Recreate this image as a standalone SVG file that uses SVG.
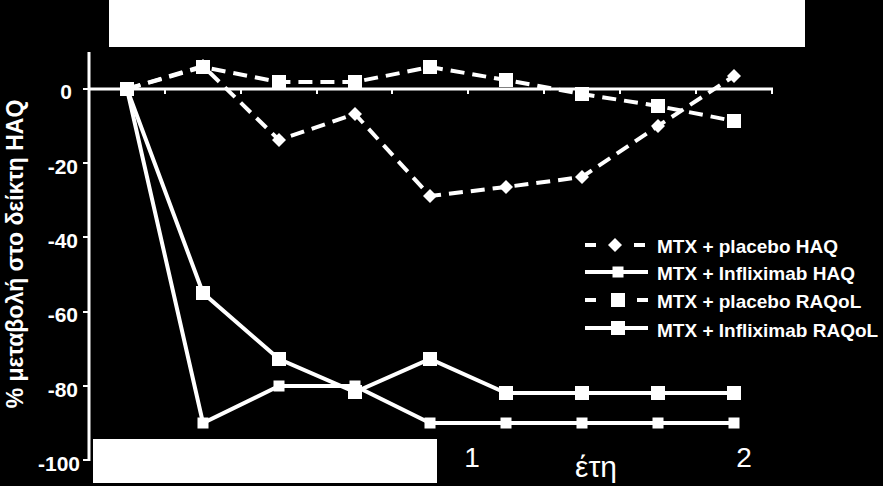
<svg xmlns="http://www.w3.org/2000/svg" width="883" height="486" viewBox="0 0 883 486">
<defs>
<style>
.ax{stroke:#fff;stroke-width:3;fill:none}
.tk{stroke:#fff;stroke-width:2}
.yl{font-family:"Liberation Sans",Arial,sans-serif;font-weight:bold;font-size:21px;fill:#fff;text-anchor:end}
.xl{font-family:"Liberation Sans",Arial,sans-serif;font-size:28px;fill:#fff;text-anchor:middle}
.lg{font-family:"Liberation Sans",Arial,sans-serif;font-weight:bold;font-size:19px;fill:#fff}
.dash{stroke:#fff;stroke-width:4;fill:none;stroke-dasharray:14 8}
.solid{stroke:#fff;stroke-width:4;fill:none}
.m{fill:#fff}
</style>
<rect id="sqS" x="-5.5" y="-5.5" width="11" height="11" class="m"/>
<rect id="sqL" x="-7" y="-7" width="14" height="14" class="m"/>
<polygon id="dia" points="0,-7 7,0 0,7 -7,0" class="m"/>
</defs>
<rect width="883" height="486" fill="#000"/>
<rect x="109" y="0" width="696" height="47" fill="#fff"/>
<g id="axes">
<line class="ax" x1="89" y1="52" x2="89" y2="461"/>
<line class="ax" x1="88" y1="89" x2="773" y2="89"/>
<g class="tk">
<line x1="83" y1="89" x2="89" y2="89"/>
<line x1="83" y1="163" x2="89" y2="163"/>
<line x1="83" y1="237" x2="89" y2="237"/>
<line x1="83" y1="312" x2="89" y2="312"/>
<line x1="83" y1="386" x2="89" y2="386"/>
<line x1="83" y1="460" x2="89" y2="460"/>
<line x1="165" y1="89" x2="165" y2="94"/>
<line x1="241" y1="89" x2="241" y2="94"/>
<line x1="317" y1="89" x2="317" y2="94"/>
<line x1="392" y1="89" x2="392" y2="94"/>
<line x1="468" y1="89" x2="468" y2="94"/>
<line x1="544" y1="89" x2="544" y2="94"/>
<line x1="620" y1="89" x2="620" y2="94"/>
<line x1="696" y1="89" x2="696" y2="94"/>
<line x1="772" y1="89" x2="772" y2="94"/>
</g>
<text class="yl" x="72" y="99">0</text>
<text class="yl" x="78" y="174">-20</text>
<text class="yl" x="78" y="248">-40</text>
<text class="yl" x="78" y="322">-60</text>
<text class="yl" x="78" y="397">-80</text>
<text class="yl" x="80" y="471">-100</text>
<text class="lg" transform="translate(23,254) rotate(-90)" text-anchor="middle" style="font-size:23px">% μεταβολή στο δείκτη HAQ</text>
<text class="xl" x="472" y="467">1</text>
<text class="xl" x="744" y="467">2</text>
<text class="xl" x="596" y="477" style="font-size:30px">έτη</text>
</g>
<g id="series">
<g id="placebo-haq">
<polyline class="dash" points="127,89 203,66 279,140 355,114 430,196 506,187 582,177 658,126 734,76"/>
<use href="#dia" x="203" y="66"/><use href="#dia" x="279" y="140"/><use href="#dia" x="355" y="114"/><use href="#dia" x="430" y="196"/><use href="#dia" x="506" y="187"/><use href="#dia" x="582" y="177"/><use href="#dia" x="658" y="126"/><use href="#dia" x="734" y="76"/>
</g>
<g id="placebo-raqol">
<polyline class="dash" points="127,89 203,67 279,82 355,82 430,67 506,80 582,94 658,106 734,121"/>
<use href="#sqL" x="127" y="89"/><use href="#sqL" x="203" y="67"/><use href="#sqL" x="279" y="82"/><use href="#sqL" x="355" y="82"/><use href="#sqL" x="430" y="67"/><use href="#sqL" x="506" y="80"/><use href="#sqL" x="582" y="94"/><use href="#sqL" x="658" y="106"/><use href="#sqL" x="734" y="121"/>
</g>
<g id="infliximab-haq">
<polyline class="solid" points="127,89 203,423 279,386 355,386 430,423 506,423 582,423 658,423 734,423"/>
<use href="#sqS" x="203" y="423"/><use href="#sqS" x="279" y="386"/><use href="#sqS" x="355" y="386"/><use href="#sqS" x="430" y="423"/><use href="#sqS" x="506" y="423"/><use href="#sqS" x="582" y="423"/><use href="#sqS" x="658" y="423"/><use href="#sqS" x="734" y="423"/>
</g>
<g id="infliximab-raqol">
<polyline class="solid" points="127,89 203,293 279,359 355,392 430,359 506,393 582,393 658,393 734,393"/>
<use href="#sqL" x="203" y="293"/><use href="#sqL" x="279" y="359"/><use href="#sqL" x="355" y="392"/><use href="#sqL" x="430" y="359"/><use href="#sqL" x="506" y="393"/><use href="#sqL" x="582" y="393"/><use href="#sqL" x="658" y="393"/><use href="#sqL" x="734" y="393"/>
</g>
</g>
<rect x="93" y="439" width="344" height="44" fill="#fff"/>
<g id="legend">
<g id="lg1"><line class="solid" x1="585" y1="245" x2="596" y2="245"/><line class="solid" x1="634" y1="245" x2="645" y2="245"/><use href="#dia" x="615" y="245"/><text class="lg" x="657" y="253">MTX + placebo HAQ</text></g>
<g id="lg2"><line class="solid" x1="585" y1="272" x2="648" y2="272"/><use href="#sqS" x="618" y="272"/><text class="lg" x="657" y="280">MTX + Infliximab HAQ</text></g>
<g id="lg3"><line class="solid" x1="585" y1="300" x2="596" y2="300"/><line class="solid" x1="637" y1="300" x2="648" y2="300"/><use href="#sqL" x="618" y="300"/><text class="lg" x="657" y="308">MTX + placebo RAQoL</text></g>
<g id="lg4"><line class="solid" x1="585" y1="328" x2="648" y2="328"/><use href="#sqL" x="618" y="328"/><text class="lg" x="657" y="337">MTX + Infliximab RAQoL</text></g>
</g>
</svg>
